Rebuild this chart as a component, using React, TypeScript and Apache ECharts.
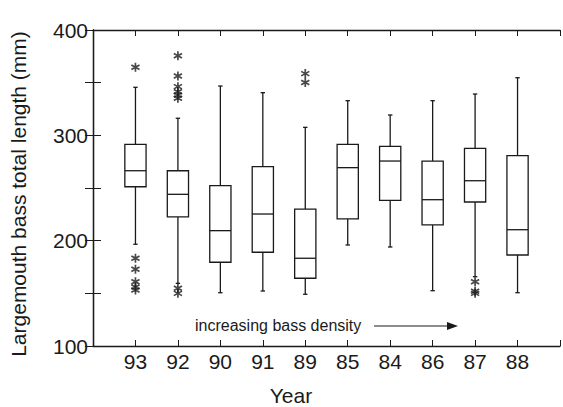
import React, { useEffect, useRef } from "react";
import * as echarts from "echarts";

const years = ["93", "92", "90", "91", "89", "85", "84", "86", "87", "88"];
const whiskerLow = [196.6, 159.5, 150.6, 152.2, 149.1, 195.9, 194.0, 152.5, 165.8, 150.6];
const quartile1 = [251.2, 222.5, 179.5, 189.0, 164.3, 220.6, 238.3, 214.9, 236.7, 186.4];
const medians = [266.4, 244.0, 209.5, 225.3, 183.3, 269.3, 275.6, 238.9, 256.9, 210.4];
const quartile3 = [291.5, 266.4, 252.2, 270.2, 230.0, 291.5, 289.6, 275.6, 287.7, 280.7];
const whiskerHigh = [345.6, 316.2, 346.8, 340.5, 307.6, 332.9, 319.3, 332.9, 339.2, 354.7];
const outliers: number[][] = [
  [364.6, 183.3, 172.8, 161.0, 156.0, 153.2],
  [375.6, 356.3, 346.2, 341.4, 338.3, 335.2, 154.8, 150.0],
  [],
  [],
  [358.6, 350.1],
  [],
  [],
  [],
  [161.0, 152.0, 150.0],
  [],
];
const yTickLabels = [100, 200, 300, 400];

const INK = "#1a1a1a";
const FONT = "Liberation Sans, Arial, Helvetica, sans-serif";
const STAR =
  "path://M41 0 L59 0 L59 100 L41 100 Z M11.2 82.8 L2.2 67.2 L88.8 17.2 L97.8 32.8 Z M2.2 32.8 L11.2 17.2 L97.8 67.2 L88.8 82.8 Z";

export default function App() {
  const ref = useRef<HTMLDivElement>(null);
  useEffect(() => {
    if (!ref.current) return;
    const chart = echarts.init(ref.current, null, { renderer: "svg" });
    const boxData = years.map((_, i) => [
      i + 1,
      whiskerLow[i],
      quartile1[i],
      medians[i],
      quartile3[i],
      whiskerHigh[i],
    ]);
    const outlierData: number[][] = [];
    outliers.forEach((list, i) => list.forEach((v) => outlierData.push([i + 1, v])));

    const xBase = {
      type: "value" as const,
      min: 0,
      max: 11,
      interval: 1,
      axisLine: { show: true, lineStyle: { color: INK, width: 1.3 } },
      axisTick: { show: true, inside: true, length: 6, lineStyle: { color: INK, width: 1 } },
      splitLine: { show: false },
    };
    const yBase = {
      type: "value" as const,
      min: 100,
      max: 400,
      interval: 50,
      axisLine: { show: true, lineStyle: { color: INK, width: 1.3 } },
      axisTick: { show: true, inside: true, length: 8, lineStyle: { color: INK, width: 1 } },
      splitLine: { show: false },
    };

    chart.setOption({
      animation: false,
      backgroundColor: "#ffffff",
      grid: { left: 93, top: 30, right: -4, bottom: 61, containLabel: false },
      xAxis: [
        {
          ...xBase,
          position: "bottom",
          axisLabel: {
            show: true,
            margin: 5,
            color: INK,
            fontSize: 21,
            fontFamily: FONT,
            formatter: (v: number) => years[v - 1] ?? "",
          },
        },
        { ...xBase, position: "top", axisLabel: { show: false } },
      ],
      yAxis: [
        {
          ...yBase,
          position: "left",
          axisLabel: {
            show: true,
            margin: 5,
            color: INK,
            fontSize: 21,
            fontFamily: FONT,
            formatter: (v: number) => (yTickLabels.includes(v) ? String(v) : ""),
          },
        },
        { ...yBase, position: "right", axisLabel: { show: false } },
      ],
      graphic: [
        {
          type: "text",
          x: 18,
          y: 194,
          rotation: Math.PI / 2,
          style: {
            text: "Largemouth bass total length (mm)",
            fontSize: 21,
            fontFamily: FONT,
            fill: INK,
            align: "center",
            verticalAlign: "middle",
          },
        },
        {
          type: "text",
          x: 291,
          y: 395,
          style: {
            text: "Year",
            fontSize: 21,
            fontFamily: FONT,
            fill: INK,
            align: "center",
            verticalAlign: "middle",
          },
        },
        {
          type: "text",
          x: 195,
          y: 325,
          style: {
            text: "increasing bass density",
            fontSize: 16,
            fontFamily: FONT,
            fill: INK,
            align: "left",
            verticalAlign: "middle",
          },
        },
        {
          type: "line",
          shape: { x1: 374, y1: 326, x2: 452, y2: 326 },
          style: { stroke: INK, lineWidth: 1.2 },
        },
        {
          type: "polygon",
          shape: { points: [[447, 322], [458, 326], [447, 330]] },
          style: { fill: INK },
        },
      ],
      series: [
        {
          type: "custom",
          xAxisIndex: 0,
          yAxisIndex: 0,
          data: boxData,
          encode: { x: 0, y: [1, 2, 3, 4, 5] },
          renderItem: (params: any, api: any) => {
            const x = api.value(0);
            const pLow = api.coord([x, api.value(1)]);
            const pQ1 = api.coord([x, api.value(2)]);
            const pMed = api.coord([x, api.value(3)]);
            const pQ3 = api.coord([x, api.value(4)]);
            const pHigh = api.coord([x, api.value(5)]);
            const half = api.size([0.5, 0])[0] / 2;
            const cap = 2.2;
            const cx = pMed[0];
            const ls = { stroke: INK, lineWidth: 1.3, fill: "none" };
            return {
              type: "group",
              children: [
                { type: "line", shape: { x1: cx, y1: pQ3[1], x2: cx, y2: pHigh[1] }, style: ls },
                { type: "line", shape: { x1: cx, y1: pQ1[1], x2: cx, y2: pLow[1] }, style: ls },
                { type: "line", shape: { x1: cx - cap, y1: pHigh[1], x2: cx + cap, y2: pHigh[1] }, style: ls },
                { type: "line", shape: { x1: cx - cap, y1: pLow[1], x2: cx + cap, y2: pLow[1] }, style: ls },
                {
                  type: "rect",
                  shape: { x: cx - half, y: pQ3[1], width: half * 2, height: pQ1[1] - pQ3[1] },
                  style: { stroke: INK, lineWidth: 1.3, fill: "#ffffff" },
                },
                { type: "line", shape: { x1: cx - half, y1: pMed[1], x2: cx + half, y2: pMed[1] }, style: ls },
              ],
            };
          },
        },
        {
          type: "scatter",
          xAxisIndex: 0,
          yAxisIndex: 0,
          data: outlierData,
          symbol: STAR,
          symbolSize: 9,
          itemStyle: { color: INK },
          z: 5,
        },
      ],
    });
    return () => chart.dispose();
  }, []);
  return (
    <div
      ref={ref}
      style={{ position: "fixed", left: 0, top: 0, width: 563, height: 407 }}
    />
  );
}
